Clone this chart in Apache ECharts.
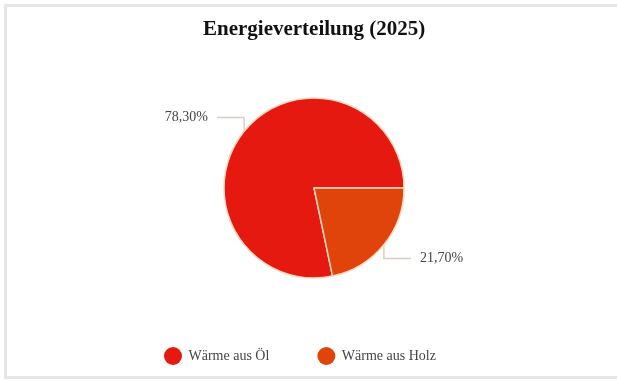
<!DOCTYPE html>
<html>
<head>
<meta charset="utf-8">
<script src="https://cdn.jsdelivr.net/npm/echarts@6/dist/echarts.min.js"></script>
<style>
  html, body { margin: 0; padding: 0; background: #fff; overflow: hidden; }
  #frame { position: fixed; left: 4px; top: 4px; right: -40px; bottom: 3px; border: 3px solid #e6e6e6; border-right: none; }
  #chart { position: absolute; left: 0; top: 0; width: 617px; height: 382px; }
</style>
</head>
<body>
<div id="frame"></div>
<div id="chart"></div>
<script>
  var categories = ['Wärme aus Öl', 'Wärme aus Holz'];
  var values = [78.3, 21.7];
  var colors = ['#e5190f', '#e0440a'];

  var chart = echarts.init(document.getElementById('chart'));

  var data = categories.map(function (name, i) {
    return { name: name, value: values[i], itemStyle: { color: colors[i] } };
  });

  chart.setOption({
    animation: false,
    textStyle: { fontFamily: 'Liberation Serif' },
    title: {
      text: 'Energieverteilung (2025)',
      left: 198,
      top: 14,
      textStyle: { fontFamily: 'Liberation Serif', fontSize: 21, fontWeight: 'bold', color: '#111' }
    },
    legend: {
      bottom: 12,
      left: 159,
      icon: 'circle',
      itemWidth: 21,
      itemHeight: 18,
      itemGap: 48,
      itemStyle: { borderWidth: 0 },
      textStyle: { fontFamily: 'Liberation Serif', fontSize: 14, color: '#444' },
      data: categories
    },
    series: [{
      type: 'pie',
      center: [314, 188],
      radius: 90,
      startAngle: 0,
      clockwise: false,
      itemStyle: { borderColor: '#f6d8c0', borderWidth: 1.5 },
      label: {
        formatter: function (p) { return p.value.toFixed(2).replace('.', ',') + '%'; },
        fontFamily: 'Liberation Serif',
        fontSize: 14,
        color: '#444',
        distanceToLabelLine: 9
      },
      labelLine: { length: 22, length2: 10, lineStyle: { color: '#d8d0c4', width: 1.5 } },
      labelLayout: function (params) {
        var p = params.labelLinePoints;
        if (!p) return {};
        return { labelLinePoints: [p[0], [p[0][0], p[2][1]], p[2]] };
      },
      data: data
    }]
  });
</script>
</body>
</html>
